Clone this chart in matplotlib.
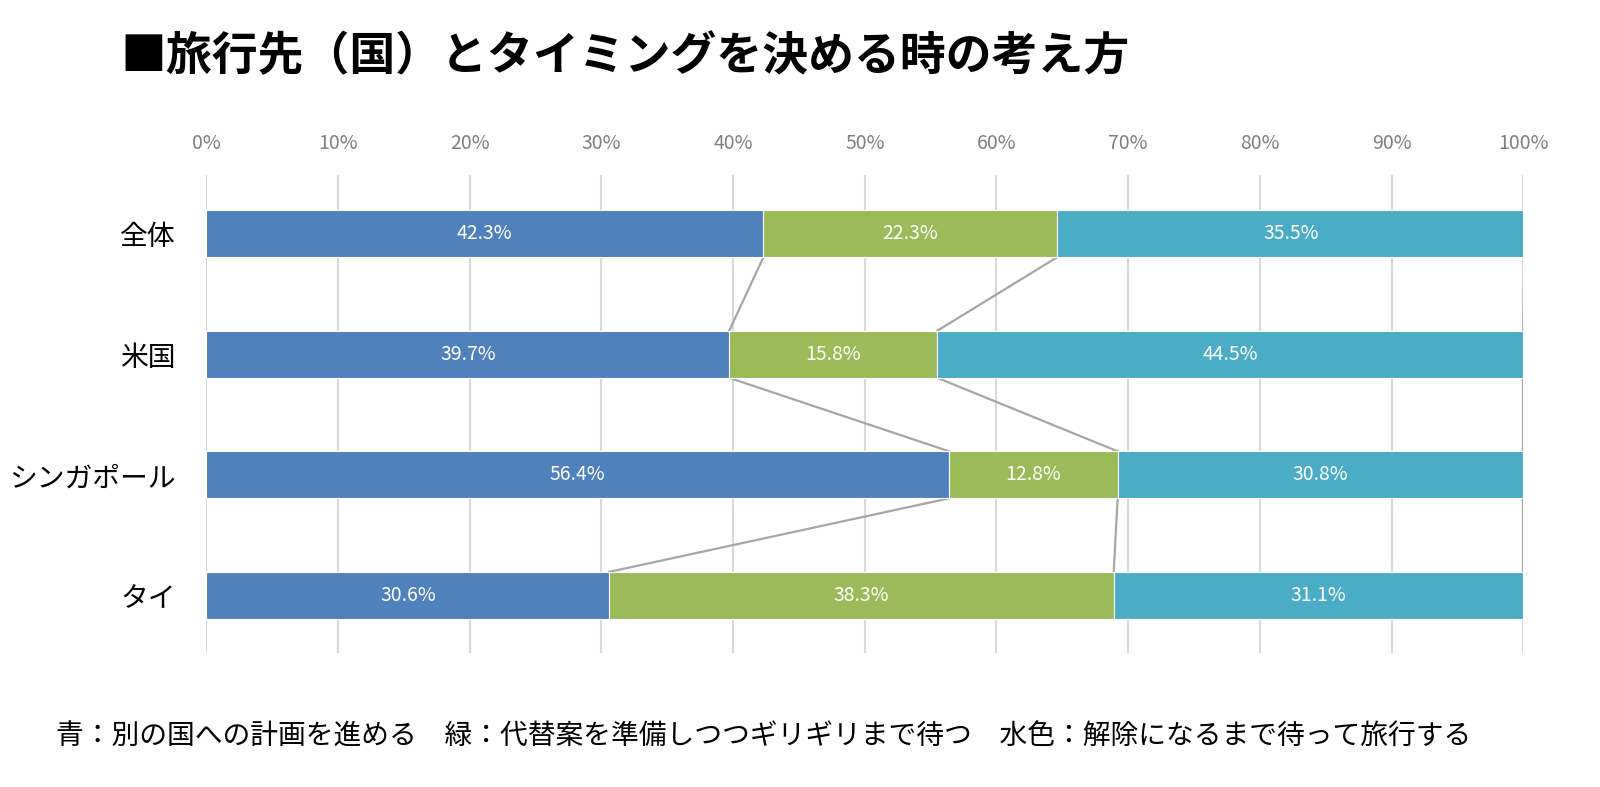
import numpy as np
import matplotlib.pyplot as plt

plt.rcParams['font.family'] = ['Noto Sans CJK JP', 'DejaVu Sans']

categories = ['全体', '米国', 'シンガポール', 'タイ']
blue = [42.3, 39.7, 56.4, 30.6]   # 別の国への計画を進める
green = [22.3, 15.8, 12.8, 38.3]  # 代替案を準備しつつギリギリまで待つ
teal = [35.5, 44.5, 30.8, 31.1]   # 解除になるまで待って旅行する
xticks = list(range(0, 101, 10))

colors = ['#4F81BD', '#9BBB59', '#4BACC6']
bar_h = 0.39

fig = plt.figure(figsize=(16, 7.87), dpi=100)
ax = fig.add_axes([0.129, 0.170, 0.823, 0.608])

y = np.arange(len(categories))
series = [blue, green, teal]
left = np.zeros(len(categories))
cums = []
for vals, c in zip(series, colors):
    vals = np.array(vals)
    ax.barh(y, vals, left=left, height=bar_h, color=c, edgecolor='white',
            linewidth=0.8, zorder=3)
    for yi, l, v in zip(y, left, vals):
        ax.text(l + v / 2, yi, f'{v:.1f}%', ha='center', va='center',
                color='white', fontsize=14, zorder=5)
    left = left + vals
    cums.append(left.copy())

# series lines between bars
for cum in cums:
    for i in range(len(categories) - 1):
        ax.plot([cum[i], cum[i + 1]], [y[i] + bar_h / 2, y[i + 1] - bar_h / 2],
                color='#A6A6A6', linewidth=1.6, zorder=2)

ax.set_xlim(0, 100)
ax.set_ylim(3.48, -0.49)
ax.set_xticks(xticks)
ax.set_xticklabels([f'{t}%' for t in xticks])
ax.xaxis.tick_top()
ax.tick_params(axis='x', length=0, pad=15, labelsize=14, labelcolor='#7F7F7F')
ax.set_yticks(y)
ax.set_yticklabels(categories)
ax.tick_params(axis='y', length=0, pad=22, labelsize=20, labelcolor='black')
ax.grid(axis='x', color='#D9D9D9', linewidth=1.5, zorder=0)
ax.set_axisbelow(True)
for s in ax.spines.values():
    s.set_visible(False)

fig.text(0.075, 0.928, '■旅行先（国）とタイミングを決める時の考え方',
         fontsize=33, fontweight='bold', va='center', ha='left')
fig.text(0.035, 0.064,
         '青：別の国への計画を進める　緑：代替案を準備しつつギリギリまで待つ　水色：解除になるまで待って旅行する',
         fontsize=20, va='center', ha='left')

plt.savefig('out.png', dpi=100, facecolor='white')
